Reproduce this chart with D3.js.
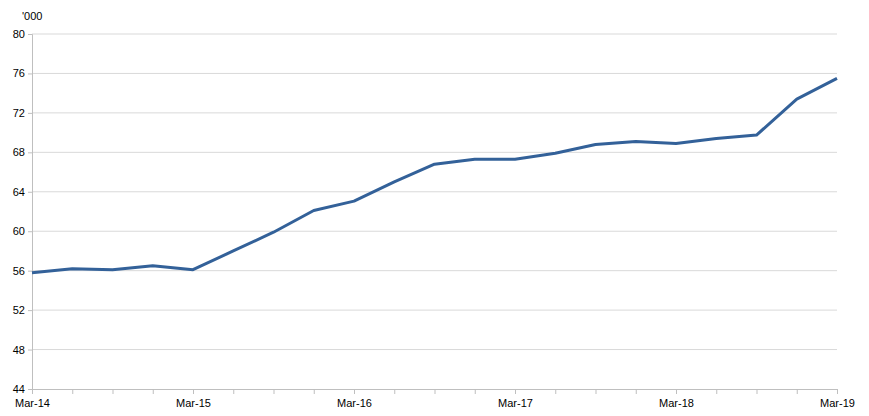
<!DOCTYPE html>
<html><head><meta charset="utf-8">
<script src="https://cdn.jsdelivr.net/npm/d3@7"></script>
<style>body{margin:0;background:#fff}svg{font-family:"Liberation Sans",Arial,sans-serif}</style>
</head><body><svg id="c" width="869" height="416"></svg>
<script>
const quarters = ["Mar-14","Jun-14","Sep-14","Dec-14","Mar-15","Jun-15","Sep-15","Dec-15","Mar-16","Jun-16","Sep-16","Dec-16","Mar-17","Jun-17","Sep-17","Dec-17","Mar-18","Jun-18","Sep-18","Dec-18","Mar-19"];
const values = [55.8,56.2,56.1,56.5,56.1,58.0,59.9,62.1,63.05,65.0,66.8,67.3,67.3,67.9,68.8,69.1,68.9,69.4,69.75,73.4,75.5];
const yTicks = [44,48,52,56,60,64,68,72,76,80];
const unitLabel = "'000";

const svg = d3.select("#c");
const L=32,R=837,T=34,B=389;
const x = d3.scalePoint().domain(quarters).range([L,R]);
const y = d3.scaleLinear().domain([44,80]).range([B,T]);

svg.append("g").selectAll("line").data(yTicks.filter(d=>d>44)).join("line")
  .attr("x1",L).attr("x2",R).attr("y1",d=>y(d)).attr("y2",d=>y(d))
  .attr("stroke","#d9d9d9").attr("stroke-width",1);

const ya = svg.append("g").attr("transform",`translate(${L},0)`)
  .call(d3.axisLeft(y).tickValues(yTicks).tickSize(4).tickFormat(d3.format("d")));
ya.select(".domain").attr("stroke","#bfbfbf");
ya.selectAll(".tick line").attr("stroke","#bfbfbf");
ya.selectAll("text").attr("font-size",11).attr("fill","#000").attr("font-family","Liberation Sans, Arial");

const xa = svg.append("g").attr("transform",`translate(0,${B})`)
  .call(d3.axisBottom(x).tickSize(5).tickFormat(d=>d.startsWith("Mar")?d:""));
xa.select(".domain").attr("stroke","#bfbfbf");
xa.selectAll(".tick line").attr("stroke","#bfbfbf");
xa.selectAll("text").attr("font-size",11).attr("fill","#000").attr("dy","0.9em").attr("font-family","Liberation Sans, Arial");

svg.append("text").attr("x",22).attr("y",20).attr("font-size",11).text(unitLabel);

svg.append("path").datum(values)
  .attr("d",d3.line().x((d,i)=>x(quarters[i])).y(d=>y(d)))
  .attr("fill","none").attr("stroke","#336199").attr("stroke-width",3).attr("stroke-linejoin","round");
</script></body></html>
